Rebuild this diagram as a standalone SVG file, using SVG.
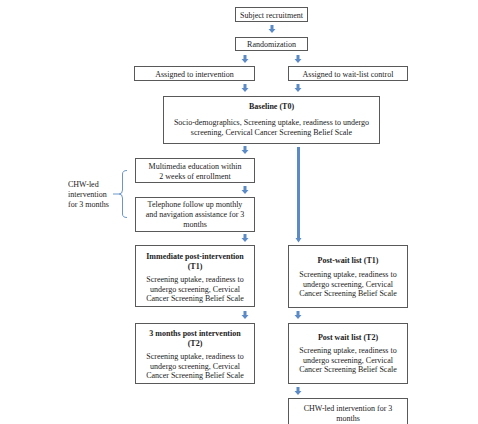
<svg xmlns="http://www.w3.org/2000/svg" width="478" height="424" viewBox="0 0 478 424">
<defs>
<style>
.box{fill:#fff;stroke:#595959;stroke-width:1}
text{font-family:"Liberation Serif","Times New Roman",serif;font-size:8px;fill:#222;text-anchor:middle}
.b{font-weight:bold}
.arr{fill:#5b8bc7}
.brace{fill:none;stroke:#6a96cc;stroke-width:1}
</style>
<path id="ar" class="arr" d="M-1.5,0 H1.5 V4 H3.5 L0,8 L-3.5,4 H-1.5 Z"/>
</defs>
<rect width="478" height="424" fill="#fff"/>
<g id="connectors">
<use href="#ar" x="272" y="25"/>
<use href="#ar" x="245" y="55"/>
<use href="#ar" x="298" y="55"/>
<use href="#ar" x="245" y="84"/>
<use href="#ar" x="298" y="84"/>
<use href="#ar" x="245" y="146"/>
<path class="arr" d="M297,147 H300 V238 H301.5 L298.5,242.5 L295.5,238 H297 Z"/>
<use href="#ar" x="245" y="186"/>
<use href="#ar" x="245" y="234"/>
<use href="#ar" x="245" y="311"/>
<use href="#ar" x="298" y="311"/>
<use href="#ar" x="298" y="387"/>
</g>
<g id="recruit"><rect class="box" x="235.5" y="7.5" width="72" height="14"/><text x="271.5" y="17.5">Subject recruitment</text></g>
<g id="random"><rect class="box" x="235.5" y="37.5" width="72" height="13"/><text x="271.5" y="47">Randomization</text></g>
<g id="assign-int"><rect class="box" x="134.5" y="66.5" width="120" height="14"/><text x="194.5" y="76.5">Assigned to intervention</text></g>
<g id="assign-wl"><rect class="box" x="288.5" y="66.5" width="119" height="14"/><text x="348" y="76.5">Assigned to wait-list control</text></g>
<g id="baseline"><rect class="box" x="163.5" y="96.5" width="216" height="47"/>
<text class="b" x="271.5" y="109">Baseline (T0)</text>
<text x="271.5" y="125">Socio-demographics, Screening uptake, readiness to undergo</text>
<text x="271.5" y="135">screening, Cervical Cancer Screening Belief Scale</text></g>
<g id="multimedia"><rect class="box" x="135.5" y="158.5" width="119" height="24"/>
<text x="195" y="169">Multimedia education within</text>
<text x="195" y="178.5">2 weeks of enrollment</text></g>
<g id="telephone"><rect class="box" x="135.5" y="197.5" width="119" height="34"/>
<text x="195" y="207">Telephone follow up monthly</text>
<text x="195" y="217">and navigation assistance for 3</text>
<text x="195" y="227">months</text></g>
<g id="chw-brace"><path class="brace" d="M127,170.5 Q122.5,170.5 122.5,174 V190 Q122.5,194 119,194 H113 M119,194 Q122.5,194 122.5,198 V214 Q122.5,217.5 127,217.5"/>
<text x="68" y="187" style="text-anchor:start">CHW-led</text>
<text x="68" y="197" style="text-anchor:start">intervention</text>
<text x="68" y="207" style="text-anchor:start">for 3 months</text></g>
<g id="immediate"><rect class="box" x="135.5" y="245.5" width="119" height="61"/>
<text class="b" x="195" y="259">Immediate post-intervention</text>
<text class="b" x="195" y="269">(T1)</text>
<text x="195" y="282">Screening uptake, readiness to</text>
<text x="195" y="291.5">undergo screening, Cervical</text>
<text x="195" y="301">Cancer Screening Belief Scale</text></g>
<g id="postwait-t1"><rect class="box" x="288.5" y="245.5" width="119" height="62"/>
<text class="b" x="348" y="263">Post-wait list (T1)</text>
<text x="348" y="277">Screening uptake, readiness to</text>
<text x="348" y="286.5">undergo screening, Cervical</text>
<text x="348" y="296">Cancer Screening Belief Scale</text></g>
<g id="three-months"><rect class="box" x="135.5" y="323.5" width="119" height="60"/>
<text class="b" x="195" y="336">3 months post intervention</text>
<text class="b" x="195" y="346">(T2)</text>
<text x="195" y="359">Screening uptake, readiness to</text>
<text x="195" y="368.5">undergo screening, Cervical</text>
<text x="195" y="378">Cancer Screening Belief Scale</text></g>
<g id="postwait-t2"><rect class="box" x="288.5" y="323.5" width="119" height="60"/>
<text class="b" x="348" y="340">Post wait list (T2)</text>
<text x="348" y="353">Screening uptake, readiness to</text>
<text x="348" y="362.5">undergo screening, Cervical</text>
<text x="348" y="372">Cancer Screening Belief Scale</text></g>
<g id="chw-final"><rect class="box" x="288.5" y="398.5" width="119" height="30"/>
<text x="348" y="411">CHW-led intervention for 3</text>
<text x="348" y="421">months</text></g>
</svg>
